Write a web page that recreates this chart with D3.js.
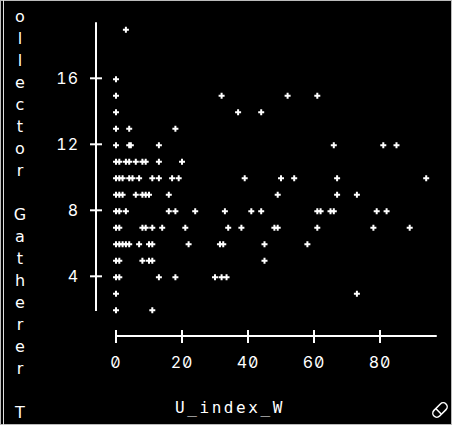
<!DOCTYPE html>
<html>
<head>
<meta charset="utf-8">
<script src="https://cdn.jsdelivr.net/npm/d3@7"></script>
<style>
  html, body { margin: 0; padding: 0; background: #000; }
  svg { display: block; }
  .num { font-feature-settings: "zero" 1, "tnum" 1; }
</style>
</head>
<body>
<svg id="chart" width="452" height="425"></svg>
<script>
// U_index_W values for each point, grouped by Collector Gatherer count
const uIndexW = [
  3,
  0,
  0, 32, 52, 61,
  0, 37, 44,
  0, 4, 18,
  0, 4, 4.5, 13, 66, 81, 85,
  0, 1, 3, 4, 6, 8, 9, 13, 20,
  0, 1, 2, 4, 5, 7, 11, 13, 17, 19, 39, 50, 54, 67, 94,
  0, 1, 2, 6, 8, 9, 10, 16, 49, 67, 73,
  0, 1, 3, 16, 18, 24, 33, 41, 44, 61, 62, 65, 66, 79, 82,
  0, 1, 8, 9, 11, 14, 21, 34, 38, 48, 49, 61, 78, 89,
  0, 1, 2, 3, 4, 7, 10, 11, 22, 31.5, 32.5, 45, 58,
  0, 1, 8, 10, 11, 45,
  0, 1, 13, 18, 30, 32, 33.5,
  0, 73,
  0, 11
];
const collectorGatherer = [
  19,
  16,
  15, 15, 15, 15,
  14, 14, 14,
  13, 13, 13,
  12, 12, 12, 12, 12, 12, 12,
  11, 11, 11, 11, 11, 11, 11, 11, 11,
  10, 10, 10, 10, 10, 10, 10, 10, 10, 10, 10, 10, 10, 10, 10,
  9, 9, 9, 9, 9, 9, 9, 9, 9, 9, 9,
  8, 8, 8, 8, 8, 8, 8, 8, 8, 8, 8, 8, 8, 8, 8,
  7, 7, 7, 7, 7, 7, 7, 7, 7, 7, 7, 7, 7, 7,
  6, 6, 6, 6, 6, 6, 6, 6, 6, 6, 6, 6, 6,
  5, 5, 5, 5, 5, 5,
  4, 4, 4, 4, 4, 4, 4,
  3, 3,
  2, 2
];
const xTicks = [0, 20, 40, 60, 80];
const yTicks = [4, 8, 12, 16];
const xTitle = "U_index_W";
const yTitle = "ollector Gatherer T";

const svg = d3.select("#chart");
const W = 452, H = 425;
const ink = "#fff";
const numFont = "Inter, 'DejaVu Sans Mono', monospace";
const monoFont = "'DejaVu Sans Mono', monospace";

svg.append("rect").attr("width", W).attr("height", H).attr("fill", "#000");

// window frame
svg.append("rect")
  .attr("x", 0.5).attr("y", 0.5).attr("width", W - 1).attr("height", H - 1)
  .attr("fill", "none").attr("stroke", "#bbb");
svg.append("line")
  .attr("x1", 3.5).attr("x2", 3.5).attr("y1", 0).attr("y2", H)
  .attr("stroke", "#ddd");

const x = d3.scaleLinear().domain([0, 100]).range([116, 446]);
const y = d3.scaleLinear().domain([0, 20]).range([342.3, 12.3]);

// x axis: line spans from 0 to a little past the data
const xAxisY = 336;
const gx = svg.append("g").attr("transform", `translate(0,${xAxisY})`);
gx.append("line")
  .attr("x1", x(0)).attr("x2", x(97.2))
  .attr("stroke", ink).attr("stroke-width", 2);
gx.selectAll("line.tick").data(xTicks).join("line")
  .attr("class", "tick")
  .attr("x1", d => x(d)).attr("x2", d => x(d))
  .attr("y1", -6).attr("y2", 7)
  .attr("stroke", ink).attr("stroke-width", 2);
gx.selectAll("text").data(xTicks).join("text")
  .attr("class", "num")
  .attr("x", d => x(d)).attr("y", 32)
  .attr("text-anchor", "middle")
  .attr("fill", ink)
  .attr("font-family", numFont).attr("font-size", 16)
  .attr("letter-spacing", 1)
  .text(d => d);

// y axis
const yAxisX = 96;
const gy = svg.append("g").attr("transform", `translate(${yAxisX},0)`);
gy.append("line")
  .attr("y1", y(1.9)).attr("y2", y(19.4))
  .attr("stroke", ink).attr("stroke-width", 2);
gy.selectAll("line.tick").data(yTicks).join("line")
  .attr("class", "tick")
  .attr("x1", -6).attr("x2", 6)
  .attr("y1", d => y(d)).attr("y2", d => y(d))
  .attr("stroke", ink).attr("stroke-width", 2);
gy.selectAll("text").data(yTicks).join("text")
  .attr("class", "num")
  .attr("x", -17).attr("y", d => y(d) + 5.5)
  .attr("text-anchor", "end")
  .attr("fill", ink)
  .attr("font-family", numFont).attr("font-size", 16)
  .attr("letter-spacing", 1)
  .text(d => d);

// points drawn as small crosses
const cross = d3.symbol().type(d3.symbolCross).size(20);
svg.append("g").selectAll("path")
  .data(d3.range(uIndexW.length))
  .join("path")
  .attr("d", cross)
  .attr("transform", i => `translate(${x(uIndexW[i])},${y(collectorGatherer[i]) + 1})`)
  .attr("fill", ink);

// x title
svg.append("text")
  .attr("x", 230).attr("y", 413)
  .attr("text-anchor", "middle")
  .attr("fill", ink)
  .attr("font-family", monoFont).attr("font-size", 16)
  .attr("letter-spacing", 2.6)
  .text(xTitle);

// y title: one letter per line, read downwards
svg.append("g").selectAll("text")
  .data(yTitle.split(""))
  .join("text")
  .attr("x", 20).attr("y", (d, i) => 22 + 22 * i)
  .attr("text-anchor", "middle")
  .attr("fill", ink)
  .attr("font-family", "'DejaVu Sans', sans-serif").attr("font-size", 16)
  .text(d => d);

// pencil icon in the lower right corner
const icon = svg.append("g").attr("transform", "translate(440,410) rotate(-45)");
icon.append("rect")
  .attr("x", -8.5).attr("y", -4).attr("width", 17).attr("height", 8).attr("rx", 4)
  .attr("fill", "none").attr("stroke", ink).attr("stroke-width", 1.5);
icon.append("line")
  .attr("x1", -2).attr("x2", -2).attr("y1", -4).attr("y2", 4)
  .attr("stroke", ink).attr("stroke-width", 1.5);
</script>
</body>
</html>
